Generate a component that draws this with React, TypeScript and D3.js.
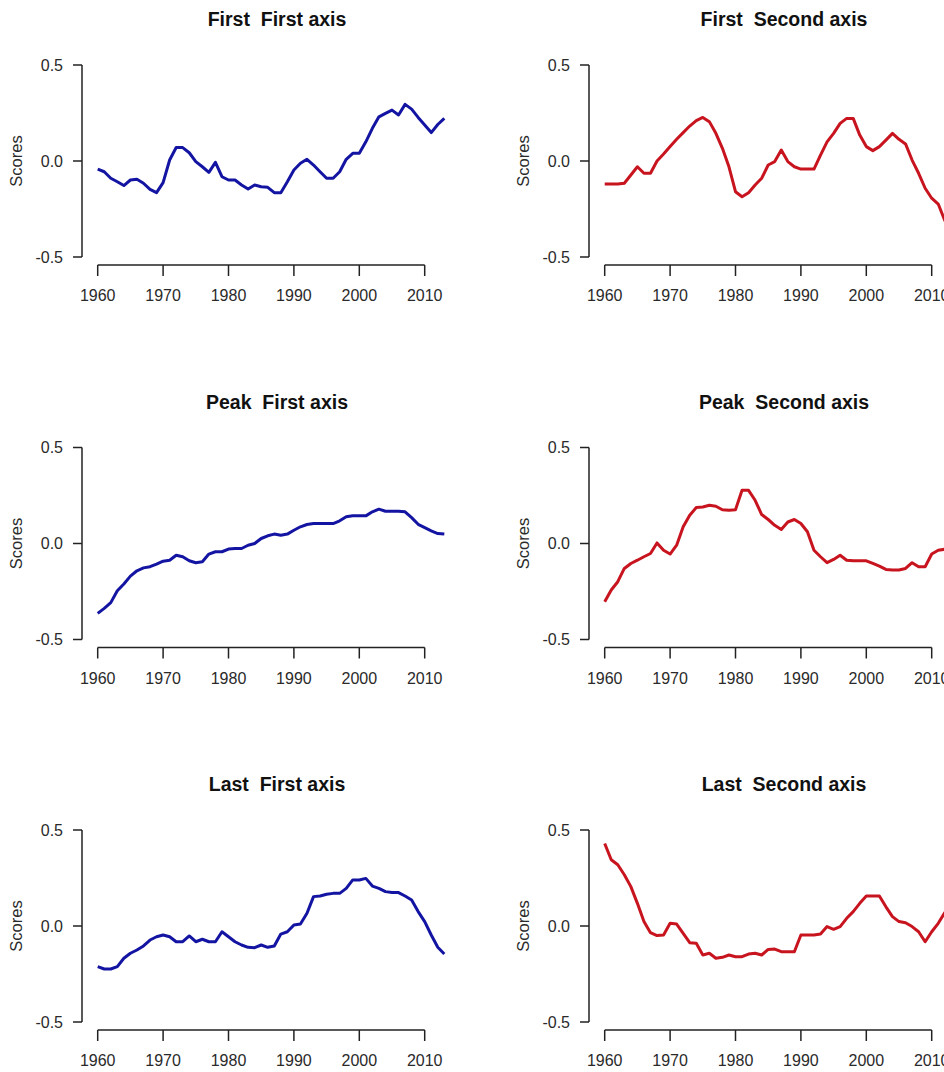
import { line, scaleLinear } from "d3";

const WIDTH = 944
const HEIGHT = 1072

const years = [
  1960, 1961, 1962, 1963, 1964, 1965, 1966, 1967, 1968, 1969,
  1970, 1971, 1972, 1973, 1974, 1975, 1976, 1977, 1978, 1979,
  1980, 1981, 1982, 1983, 1984, 1985, 1986, 1987, 1988, 1989,
  1990, 1991, 1992, 1993, 1994, 1995, 1996, 1997, 1998, 1999,
  2000, 2001, 2002, 2003, 2004, 2005, 2006, 2007, 2008, 2009,
  2010, 2011, 2012, 2013
]

const xTicks = [1960, 1970, 1980, 1990, 2000, 2010]
const yTicks = [-0.5, 0, 0.5]
const yTickLabels = ["-0.5", "0.0", "0.5"]

const firstFirst = [
  -0.042, -0.056, -0.09, -0.108, -0.128, -0.099, -0.095, -0.116, -0.148, -0.165,
  -0.113, 0.005, 0.07, 0.07, 0.043, -0.003, -0.03, -0.059, -0.007, -0.082,
  -0.099, -0.099, -0.125, -0.146, -0.125, -0.134, -0.137, -0.165, -0.165, -0.108,
  -0.047, -0.012, 0.009, -0.021, -0.056, -0.09, -0.09, -0.056, 0.009, 0.04,
  0.04, 0.1, 0.17, 0.23, 0.248, 0.265, 0.24, 0.295, 0.27, 0.227,
  0.188, 0.148, 0.19, 0.222
]

const firstSecond = [
  -0.12, -0.12, -0.12, -0.116, -0.073, -0.03, -0.064, -0.064, 0, 0.036,
  0.075, 0.113, 0.148, 0.182, 0.21, 0.227, 0.205, 0.144, 0.066, -0.03,
  -0.16, -0.186, -0.165, -0.125, -0.09, -0.021, -0.003, 0.057, -0.003, -0.03,
  -0.042, -0.042, -0.042, 0.031, 0.1, 0.144, 0.196, 0.222, 0.222, 0.135,
  0.075, 0.054, 0.075, 0.109, 0.144, 0.113, 0.089, 0.005, -0.064, -0.142,
  -0.194, -0.224, -0.31, -0.36
]

const peakFirst = [
  -0.364, -0.338, -0.308, -0.246, -0.211, -0.17, -0.142, -0.127, -0.121, -0.107,
  -0.092, -0.087, -0.061, -0.069, -0.09, -0.1, -0.095, -0.055, -0.043, -0.043,
  -0.029, -0.026, -0.026, -0.009, 0, 0.026, 0.04, 0.049, 0.043, 0.049,
  0.069, 0.087, 0.099, 0.104, 0.104, 0.104, 0.104, 0.118, 0.139, 0.144,
  0.144, 0.144, 0.165, 0.179, 0.168, 0.168, 0.168, 0.165, 0.135, 0.1,
  0.083, 0.066, 0.052, 0.049
]

const peakSecond = [
  -0.303, -0.242, -0.199, -0.13, -0.104, -0.087, -0.069, -0.052, 0.003, -0.035,
  -0.055, -0.009, 0.087, 0.147, 0.187, 0.19, 0.199, 0.194, 0.176, 0.173,
  0.176, 0.277, 0.277, 0.225, 0.151, 0.125, 0.095, 0.073, 0.112, 0.125,
  0.104, 0.061, -0.035, -0.069, -0.1, -0.083, -0.061, -0.087, -0.09, -0.09,
  -0.09, -0.104, -0.118, -0.135, -0.138, -0.138, -0.13, -0.1, -0.121, -0.121,
  -0.055, -0.035, -0.03, -0.03
]

const lastFirst = [
  -0.212, -0.224, -0.224, -0.212, -0.168, -0.142, -0.125, -0.104, -0.073, -0.056,
  -0.047, -0.056, -0.082, -0.082, -0.052, -0.082, -0.069, -0.082, -0.082, -0.03,
  -0.056, -0.082, -0.099, -0.111, -0.113, -0.099, -0.111, -0.104, -0.042, -0.03,
  0.005, 0.01, 0.066, 0.153, 0.156, 0.165, 0.17, 0.17, 0.196, 0.24,
  0.24, 0.248, 0.208, 0.196, 0.179, 0.175, 0.174, 0.156, 0.135, 0.075,
  0.023, -0.047, -0.111, -0.146
]

const lastSecond = [
  0.43, 0.345, 0.319, 0.267, 0.205, 0.118, 0.023, -0.035, -0.05, -0.047,
  0.014, 0.01, -0.038, -0.087, -0.09, -0.151, -0.142, -0.168, -0.163, -0.151,
  -0.16, -0.16, -0.146, -0.142, -0.151, -0.122, -0.12, -0.134, -0.134, -0.134,
  -0.047, -0.047, -0.047, -0.042, -0.003, -0.017, -0.003, 0.04, 0.075, 0.118,
  0.156, 0.156, 0.156, 0.1, 0.049, 0.023, 0.017, -0.003, -0.03, -0.082,
  -0.03, 0.014, 0.07, 0.1
]

const BLUE = '#1414a2'
const RED = '#c8141e'
const AXIS = '#222'
const LABEL = '#2a2a2a'
const FONT = '"Liberation Sans", Arial, sans-serif'

// panel placement (offset of each panel in the page)
const COL_OFFSET = [0, 507]
const ROW_OFFSET = [0, 382.5, 765]

function Panel({title, values, color, dx, dy}){
    const xScale = scaleLinear()
                    .domain([1960, 2010])
                    .range([dx + 97.7, dx + 424.7])
    const yScale = scaleLinear()
                    .domain([-0.5, 0.5])
                    .range([dy + 257, dy + 65])
    const linePath = line()
                .x((d) => xScale(d[0]))
                .y((d) => yScale(d[1]))
    const pts = years.map((yr, i) => [yr, values[i]])
    const axisX = dx + 82
    const axisY = dy + 265

    const yAxis = yTicks.map((v, i) => (
        <g key={i}>
            <line
            x1={axisX - 9}
            x2={axisX}
            y1={yScale(v)}
            y2={yScale(v)}
            stroke={AXIS}
            strokeWidth={1.5}
            />
            <text
            x={axisX - 19}
            y={yScale(v)}
            dy={'0.36em'}
            textAnchor={'end'}
            fontSize={16}
            fill={LABEL}
            >
                {yTickLabels[i]}
            </text>
        </g>
    ))
    const xAxis = xTicks.map((yr) => (
        <g key={yr}>
            <line
            x1={xScale(yr)}
            x2={xScale(yr)}
            y1={axisY}
            y2={axisY + 11}
            stroke={AXIS}
            strokeWidth={1.5}
            />
            <text
            x={xScale(yr)}
            y={axisY + 36}
            textAnchor={'middle'}
            fontSize={16}
            fill={LABEL}
            >
                {yr}
            </text>
        </g>
    ))

    return (
        <g fontFamily={FONT}>
            <text
            x={dx + 277}
            y={dy + 26}
            textAnchor={'middle'}
            fontSize={19.5}
            fontWeight={700}
            fill={'#111'}
            style={{whiteSpace: 'pre'}}
            >
                {title}
            </text>
            <text
            transform={`translate(${dx + 22},${dy + 161}) rotate(-90)`}
            textAnchor={'middle'}
            fontSize={16.5}
            fill={LABEL}
            >
                Scores
            </text>
            <line
            x1={axisX}
            x2={axisX}
            y1={yScale(-0.5)}
            y2={yScale(0.5)}
            stroke={AXIS}
            strokeWidth={1.5}
            />
            {yAxis}
            <line
            x1={xScale(1960)}
            x2={xScale(2010)}
            y1={axisY}
            y2={axisY}
            stroke={AXIS}
            strokeWidth={1.5}
            />
            {xAxis}
            <path
            d={linePath(pts)}
            fill='none'
            stroke={color}
            strokeWidth={3}
            strokeLinejoin='round'
            />
        </g>
    )
}

export default function App(){
    return (
        <div style={{position: 'absolute', left: 0, top: 0, width: WIDTH, height: HEIGHT, overflow: 'hidden', background: '#fff'}}>
            <svg width={WIDTH} height={HEIGHT} style={{display: 'block'}}>
                <rect width={WIDTH} height={HEIGHT} fill={'#fff'}/>
                <Panel title={'First  First axis'} values={firstFirst} color={BLUE} dx={COL_OFFSET[0]} dy={ROW_OFFSET[0]}/>
                <Panel title={'First  Second axis'} values={firstSecond} color={RED} dx={COL_OFFSET[1]} dy={ROW_OFFSET[0]}/>
                <Panel title={'Peak  First axis'} values={peakFirst} color={BLUE} dx={COL_OFFSET[0]} dy={ROW_OFFSET[1]}/>
                <Panel title={'Peak  Second axis'} values={peakSecond} color={RED} dx={COL_OFFSET[1]} dy={ROW_OFFSET[1]}/>
                <Panel title={'Last  First axis'} values={lastFirst} color={BLUE} dx={COL_OFFSET[0]} dy={ROW_OFFSET[2]}/>
                <Panel title={'Last  Second axis'} values={lastSecond} color={RED} dx={COL_OFFSET[1]} dy={ROW_OFFSET[2]}/>
            </svg>
        </div>
    )
}
